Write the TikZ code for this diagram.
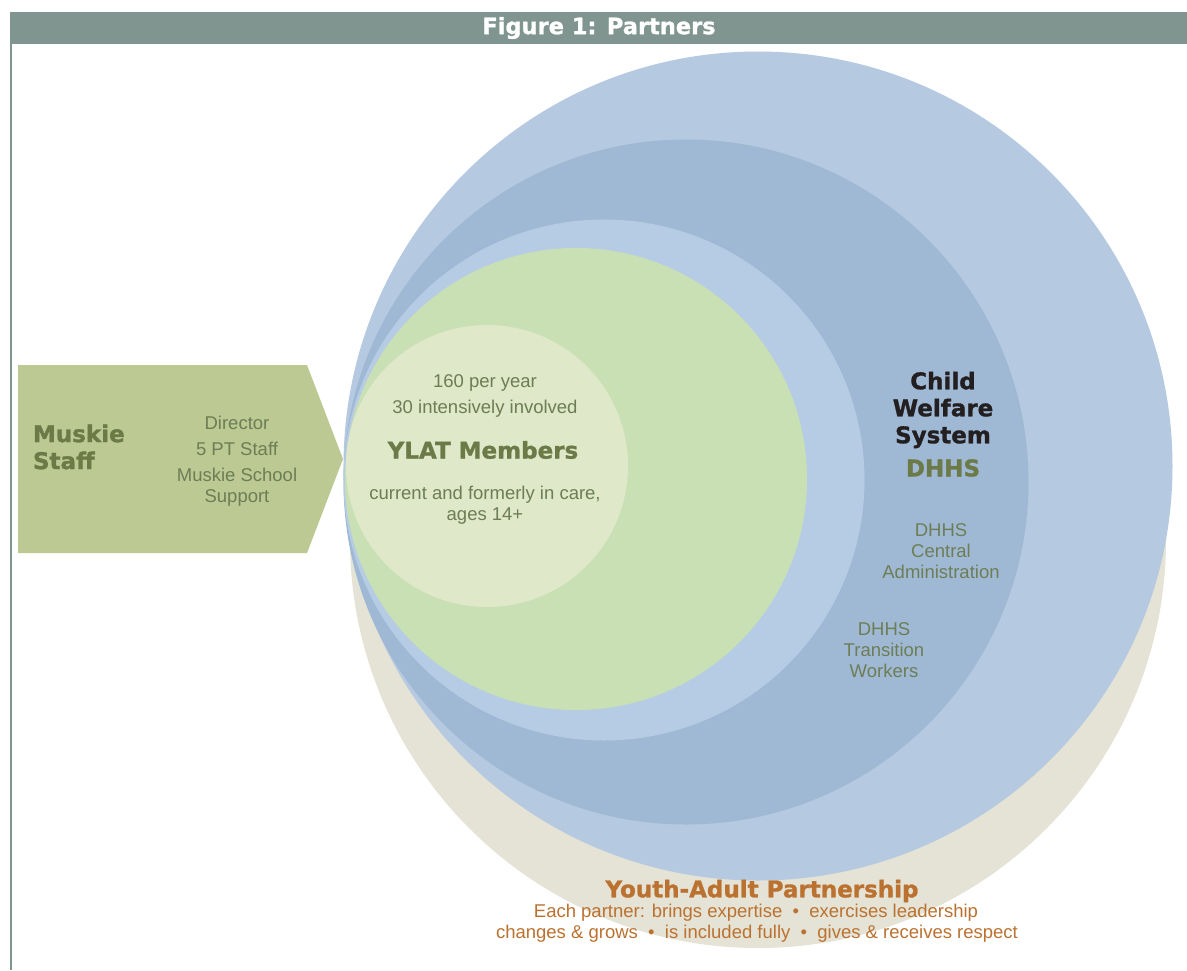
\documentclass[tikz,border=0pt]{standalone}
\usepackage{fontspec}
\setmainfont{Liberation Sans}
\newfontfamily\heavy{DejaVu Sans Bold}[FakeBold=1.2]
\definecolor{hdr}{HTML}{80958F}
\definecolor{outerblue}{HTML}{B5C9E1}
\definecolor{midblue}{HTML}{9FB9D5}
\definecolor{lightblue}{HTML}{B6CCE4}
\definecolor{greenc}{HTML}{C9E0B5}
\definecolor{innerc}{HTML}{DFE8C8}
\definecolor{beige}{HTML}{E4E3D5}
\definecolor{arrowc}{HTML}{BDC993}
\definecolor{olivetext}{HTML}{6D7D55}
\definecolor{olivebold}{HTML}{6B7A46}
\definecolor{darktext}{HTML}{231F20}
\definecolor{orangec}{HTML}{BB7230}
\tikzset{
  disc/.style={circle, draw=none, inner sep=0pt, outer sep=0pt},
  plain/.style={inner sep=0pt, outer sep=0pt, align=center, text=olivetext, font=\fontsize{18.5}{21}\selectfont},
  heading/.style={inner sep=0pt, outer sep=0pt, align=center, font=\heavy\fontsize{23}{27}\selectfont},
  orangeline/.style={inner sep=0pt, outer sep=0pt, text=orangec, font=\fontsize{18.5}{21}\selectfont}
}
\begin{document}
\begin{tikzpicture}[x=1pt,y=-1pt]
\useasboundingbox (0,0) rectangle (1187,970);
\fill[white] (0,0) rectangle (1187,970);
% header and frame line
\fill[hdr] (10,12) rectangle (1187,44);
\fill[hdr] (10,44) rectangle (12,970);
\node[inner sep=0pt, text=white, font=\heavy\fontsize{22.5}{26}\selectfont] (title) at (599,28) {Figure 1: Partners};
% circles
\node[disc, fill=beige, minimum size=816pt] (beigec) at (758,540) {};
\node[disc, fill=outerblue, minimum size=829pt] (outerc) at (758,466) {};
\node[disc, fill=midblue, minimum size=685pt] (midc) at (686,482) {};
\node[disc, fill=lightblue, minimum size=521pt] (lightc) at (604,480) {};
\node[disc, fill=greenc, minimum size=462pt] (greenc) at (576,479) {};
\node[disc, fill=innerc, minimum size=282pt] (innerc) at (487,466) {};
% arrow shape
\fill[arrowc] (18,365) -- (307,365) -- (343,459) -- (307,553) -- (18,553) -- cycle;
\node[heading, text=olivebold, anchor=west, align=left] (muskie) at (33,447) {Muskie\\Staff};
\node[plain] (director) at (237,423) {Director};
\node[plain] (ptstaff) at (237,449) {5 PT Staff};
\node[plain] (school) at (237,487) {Muskie School\\Support};
% YLAT texts
\node[plain] (peryear) at (485,383) {160 per year};
\node[plain] (intens) at (485,409) {30 intensively involved};
\node[heading, text=olivebold] (ylat) at (483,450) {YLAT Members};
\node[plain] (current) at (485,505) {current and formerly in care,\\ages 14+};
% Child welfare texts
\node[heading, text=darktext] (cws) at (943,410) {Child\\Welfare\\System};
\node[heading, text=olivebold] (dhhs) at (943,468) {DHHS};
\node[plain] (central) at (941,551) {DHHS\\Central\\Administration};
\node[plain] (transition) at (884,650) {DHHS\\Transition\\Workers};
% Youth-adult partnership
\node[heading, text=orangec] (yap) at (762,891) {Youth-Adult Partnership};
\node[orangeline] (each) at (756,913) {Each partner: brings expertise \ \textbullet\ \ exercises leadership};
\node[orangeline] (changes) at (757,934) {changes \& grows \ \textbullet\ \ is included fully \ \textbullet\ \ gives \& receives respect};
\end{tikzpicture}
\end{document}
